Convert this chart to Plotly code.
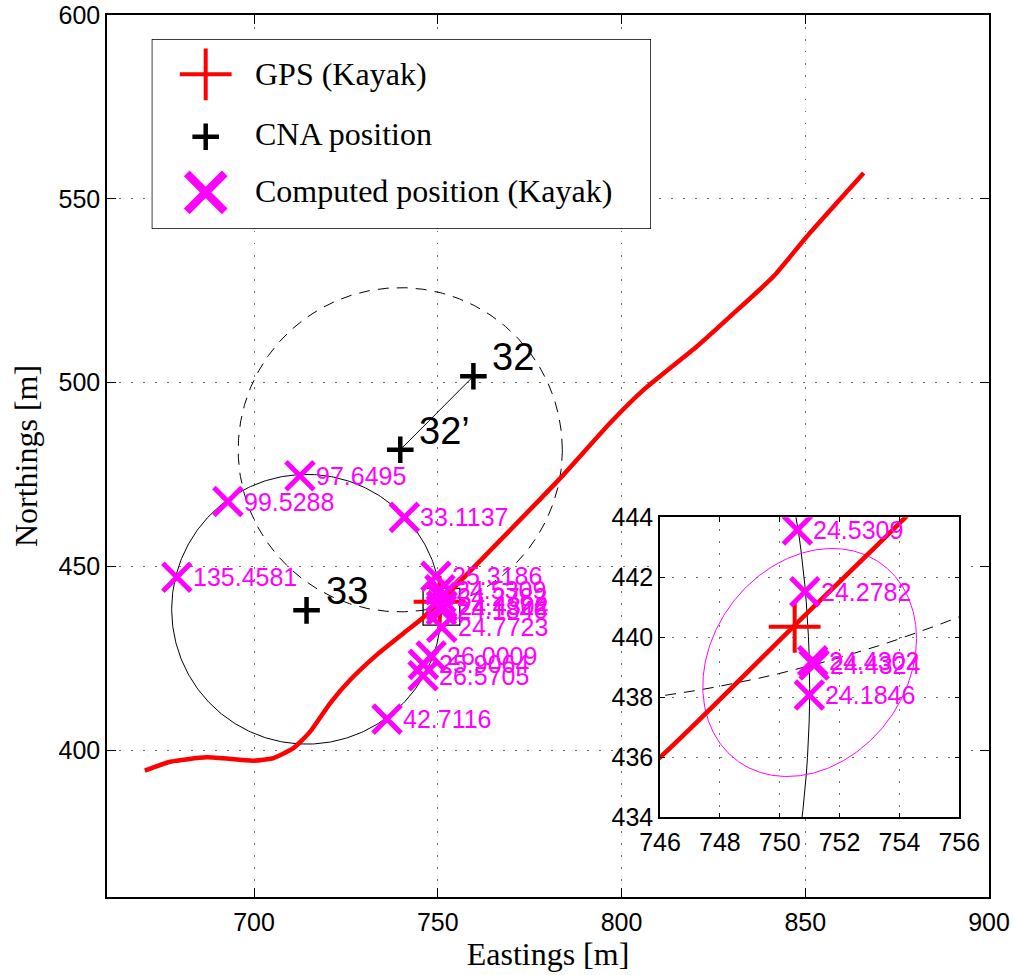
import numpy as np
import plotly.graph_objects as go

# ---------------- data ----------------
track_x = [670.3, 677.2, 687.1, 699.8, 705.3, 710.7, 715.3, 720.7, 726.2, 733.4, 740.7,
           746.0, 750.5, 754.2, 782.9, 796.9, 806.0, 820.5, 829.6, 841.4, 850.5, 865.9]
track_y = [394.4, 396.8, 398.0, 397.1, 397.8, 400.5, 405.0, 412.7, 419.1, 425.9, 431.8,
           436.0, 440.4, 444.0, 473.5, 489.0, 498.0, 509.8, 518.0, 528.9, 539.8, 557.0]

gps_x = [750.5]
gps_y = [440.35]

cna_names = ["32", "32\u2019", "33"]
cna_x = [759.7, 739.8, 714.3]
cna_y = [501.7, 481.7, 438.0]

comp_labels = ["97.6495", "99.5288", "33.1137", "135.4581", "25.3186", "24.5309",
               "24.2782", "24.4302", "24.4324", "24.1846", "24.7723", "26.0009",
               "25.9064", "26.5705", "42.7116"]
comp_x = [712.5, 692.9, 740.9, 679.0, 749.5, 750.59, 750.84, 751.1, 751.15, 750.99,
          751.1, 748.2, 746.1, 746.0, 736.2]
comp_y = [474.6, 467.6, 463.3, 447.0, 447.3, 443.58, 441.52, 439.22, 439.08, 438.08,
          433.4, 425.6, 423.3, 420.2, 408.4]

# range circles (center, radius)
solid_circle = (714.3, 438.3, 36.7)
dashed_circle = (739.8, 481.7, 44.1)
# error ellipse in the inset (center and axis matrix)
ell_center = (751.0, 439.16)
ell_axes = [[3.57, 0.0], [0.80, 3.715]]

main_xr = [660, 900]
main_yr = [360, 600]
inset_xr = [746, 756]
inset_yr = [434, 444]
main_xticks = [700, 750, 800, 850, 900]
main_yticks = [400, 450, 500, 550, 600]
inset_xticks = [746, 748, 750, 752, 754, 756]
inset_yticks = [434, 436, 438, 440, 442, 444]

legend_labels = ["GPS (Kayak)", "CNA position", "Computed position (Kayak)"]

# ---------------- styling ----------------
MAG = "#FF00FF"
RED = "#FF0000"
SANS = "Liberation Sans, Arial, sans-serif"
SERIF = "Liberation Serif, Times New Roman, serif"

W, H = 1013, 975
ML, MR, MT, MB = 107, 24, 15, 78
PW, PH = W - ML - MR, H - MT - MB


def px2paper_x(p):
    return (p - ML) / PW


def px2paper_y(p):
    return (H - MB - p) / PH


t = np.linspace(0, 2 * np.pi, 400)


def circle_pts(c):
    cx, cy, r = c
    return cx + r * np.cos(t), cy + r * np.sin(t)


ex = ell_center[0] + ell_axes[0][0] * np.cos(t) + ell_axes[0][1] * np.sin(t)
ey = ell_center[1] + ell_axes[1][0] * np.cos(t) + ell_axes[1][1] * np.sin(t)

fig = go.Figure()


def add_panel(xa, ya, inset=False):
    sx, sy = circle_pts(solid_circle)
    dx, dy = circle_pts(dashed_circle)
    fig.add_trace(go.Scatter(x=sx, y=sy, mode="lines", line=dict(color="black", width=1),
                             xaxis=xa, yaxis=ya, hoverinfo="skip"))
    fig.add_trace(go.Scatter(x=dx, y=dy, mode="lines",
                             line=dict(color="black", width=1, dash="11px,8px"),
                             xaxis=xa, yaxis=ya, hoverinfo="skip"))
    if inset:
        fig.add_trace(go.Scatter(x=ex, y=ey, mode="lines", line=dict(color=MAG, width=1),
                                 xaxis=xa, yaxis=ya, hoverinfo="skip"))
    else:
        fig.add_trace(go.Scatter(x=cna_x[:2], y=cna_y[:2], mode="lines",
                                 line=dict(color="black", width=1),
                                 xaxis=xa, yaxis=ya, hoverinfo="skip"))
    fig.add_trace(go.Scatter(x=track_x, y=track_y, mode="lines",
                             line=dict(color=RED, width=4.5, shape="spline", smoothing=0.5),
                             xaxis=xa, yaxis=ya, name="GPS track"))
    fig.add_trace(go.Scatter(x=gps_x, y=gps_y, mode="markers",
                             marker=dict(symbol="cross-thin", size=37, color=RED,
                                         line=dict(color=RED, width=4)),
                             xaxis=xa, yaxis=ya, name="GPS (Kayak)"))
    fig.add_trace(go.Scatter(x=cna_x, y=cna_y, mode="markers",
                             marker=dict(symbol="cross-thin", size=19, color="black",
                                         line=dict(color="black", width=4.5)),
                             xaxis=xa, yaxis=ya, name="CNA position"))
    fig.add_trace(go.Scatter(x=comp_x, y=comp_y, mode="markers",
                             marker=dict(symbol="x-thin", size=28, color=MAG,
                                         line=dict(color=MAG, width=5)),
                             xaxis=xa, yaxis=ya, name="Computed position (Kayak)"))


add_panel("x", "y")
add_panel("x2", "y2", inset=True)

# legend glyphs on a hidden helper axis (pixel units inside the legend box)
LBX0, LBY0, LBX1, LBY1 = 151.7, 39, 651, 229
lw, lh = LBX1 - LBX0, LBY1 - LBY0
leg_sym_x = 54
leg_sym_y = [35.3, 97.7, 153.3]
leg_txt_y = [35, 95, 152]
fig.add_trace(go.Scatter(x=[leg_sym_x], y=[leg_sym_y[0]], mode="markers", xaxis="x3", yaxis="y3",
                         marker=dict(symbol="cross-thin", size=37, color=RED,
                                     line=dict(color=RED, width=4)), hoverinfo="skip"))
fig.add_trace(go.Scatter(x=[leg_sym_x], y=[leg_sym_y[1]], mode="markers", xaxis="x3", yaxis="y3",
                         marker=dict(symbol="cross-thin", size=19, color="black",
                                     line=dict(color="black", width=4.5)), hoverinfo="skip"))
fig.add_trace(go.Scatter(x=[leg_sym_x], y=[leg_sym_y[2]], mode="markers", xaxis="x3", yaxis="y3",
                         marker=dict(symbol="x-thin", size=38, color=MAG,
                                     line=dict(color=MAG, width=8)), hoverinfo="skip"))

annotations = []
for lab, yy in zip(legend_labels, leg_txt_y):
    annotations.append(dict(x=101.6, y=yy, xref="x3", yref="y3", text=lab, showarrow=False,
                            xanchor="left", yanchor="middle",
                            font=dict(family=SERIF, size=32, color="black")))

for lab, xx, yy in zip(comp_labels, comp_x, comp_y):
    annotations.append(dict(x=xx, y=yy, xref="x", yref="y", text=lab, showarrow=False,
                            xanchor="left", yanchor="middle", xshift=14,
                            font=dict(family=SANS, size=25, color=MAG)))
    if inset_xr[0] <= xx <= inset_xr[1] and inset_yr[0] <= yy <= inset_yr[1]:
        annotations.append(dict(x=xx, y=yy, xref="x2", yref="y2", text=lab, showarrow=False,
                                xanchor="left", yanchor="middle", xshift=14,
                                font=dict(family=SANS, size=25, color=MAG)))

for lab, xx, yy in zip(cna_names, cna_x, cna_y):
    annotations.append(dict(x=xx, y=yy, xref="x", yref="y", text=lab, showarrow=False,
                            xanchor="left", yanchor="middle", xshift=17, yshift=19,
                            font=dict(family=SANS, size=38, color="black")))

shapes = [
    dict(type="rect", xref="x2", yref="y2", x0=inset_xr[0], x1=inset_xr[1],
         y0=inset_yr[0], y1=inset_yr[1], fillcolor="white", line=dict(width=0), layer="below"),
    dict(type="rect", xref="x3", yref="y3", x0=0, x1=lw, y0=0, y1=lh,
         fillcolor="white", line=dict(color="black", width=1.5), layer="below"),
    dict(type="rect", xref="x", yref="y", x0=inset_xr[0], x1=inset_xr[1],
         y0=inset_yr[0], y1=inset_yr[1], line=dict(color="black", width=1.3), layer="below"),
]

GRID = dict(showgrid=True, gridcolor="#6f6f6f", gridwidth=1, griddash="1.5px,10.5px",
            zeroline=False, showline=True, linecolor="black", linewidth=1.5,
            mirror="ticks", ticks="inside", tickcolor="black", tickwidth=1,
            automargin=False, ticklabeloverflow="allow",
            tickfont=dict(family=SANS, size=25, color="black"))

fig.update_layout(
    width=W, height=H, autosize=False,
    margin=dict(l=ML, r=MR, t=MT, b=MB),
    paper_bgcolor="white", plot_bgcolor="white",
    showlegend=False,
    xaxis=dict(domain=[0, 1], range=main_xr, tickvals=main_xticks, ticklen=9, anchor="y",
               ticklabelstandoff=2,
               title=dict(text="Eastings [m]", font=dict(family=SERIF, size=32, color="black"),
                          standoff=4),
               **GRID),
    yaxis=dict(domain=[0, 1], range=main_yr, tickvals=main_yticks, ticklen=9, anchor="x",
               title=dict(text="Northings [m]", font=dict(family=SERIF, size=32, color="black"),
                          standoff=11),
               **GRID),
    xaxis2=dict(domain=[px2paper_x(660), px2paper_x(959.3)], range=inset_xr,
                ticklabelstandoff=2,
                tickvals=inset_xticks, ticklen=5, anchor="y2", **GRID),
    yaxis2=dict(domain=[px2paper_y(817.3), px2paper_y(517.3)], range=inset_yr,
                tickvals=inset_yticks, ticklen=5, anchor="x2", **GRID),
    xaxis3=dict(domain=[px2paper_x(LBX0), px2paper_x(LBX1)], range=[0, lw], anchor="y3",
                visible=False, fixedrange=True),
    yaxis3=dict(domain=[px2paper_y(LBY1), px2paper_y(LBY0)], range=[lh, 0], anchor="x3",
                visible=False, fixedrange=True),
    annotations=annotations,
    shapes=shapes,
)

# remove the default page margin so the figure sits at the window origin
fig.write_html("out.html", config={"displayModeBar": False},
               post_script="document.body.style.margin='0px';document.body.style.overflow='hidden';")
